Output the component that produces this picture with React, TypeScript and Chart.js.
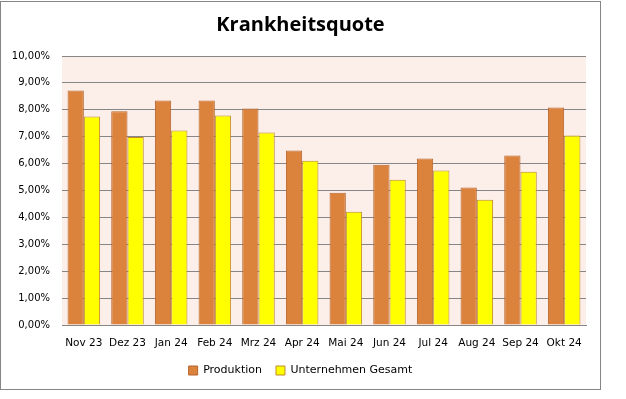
import React, { useEffect, useRef } from "react";
import { Chart, registerables } from "chart.js";

Chart.register(...registerables);

const categories = ["Nov 23", "Dez 23", "Jan 24", "Feb 24", "Mrz 24", "Apr 24", "Mai 24", "Jun 24", "Jul 24", "Aug 24", "Sep 24", "Okt 24"];
const produktion = [8.72, 7.95, 8.35, 8.35, 8.05, 6.49, 4.92, 5.96, 6.19, 5.11, 6.30, 8.09];
const unternehmenGesamt = [7.75, 6.99, 7.23, 7.79, 7.16, 6.11, 4.21, 5.40, 5.74, 4.66, 5.70, 7.04];
const yTicks = [0, 1, 2, 3, 4, 5, 6, 7, 8, 9, 10];

const fmt = (v: number) => v.toFixed(2).replace(".", ",") + "%";

const plotBg = {
  id: "plotBg",
  beforeDraw(chart: any) {
    const { ctx, chartArea } = chart;
    ctx.save();
    ctx.fillStyle = "#FCEEE9";
    ctx.fillRect(chartArea.left, chartArea.top, chartArea.right - chartArea.left, chartArea.bottom - chartArea.top);
    ctx.restore();
  },
};

export default function App() {
  const ref = useRef<HTMLCanvasElement>(null);
  useEffect(() => {
    document.body.style.margin = "0";
    const chart = new Chart(ref.current!, {
      type: "bar",
      data: {
        labels: categories,
        datasets: [
          {
            label: "Produktion",
            data: produktion,
            backgroundColor: "#DB823D",
            borderColor: "#B5652C",
            borderWidth: 1,
            categoryPercentage: 0.745,
            barPercentage: 1,
          },
          {
            label: "Unternehmen Gesamt",
            data: unternehmenGesamt,
            backgroundColor: "#FFFF00",
            borderColor: "#C08A2A",
            borderWidth: 1,
            categoryPercentage: 0.745,
            barPercentage: 1,
          },
        ],
      },
      options: {
        responsive: false,
        animation: false,
        maintainAspectRatio: false,
        layout: { padding: { left: 0, right: 0, top: 0, bottom: 3 } },
        plugins: {
          title: {
            display: true,
            text: "Krankheitsquote",
            color: "#000",
            font: { family: "'Open Sans'", size: 20, weight: "bold" },
            padding: { top: 11, bottom: 19 },
          },
          legend: {
            position: "bottom",
            labels: {
              boxWidth: 9,
              boxHeight: 9,
              color: "#000",
              font: { family: "'DejaVu Sans'", size: 11 },
              padding: 14,
            },
          },
          tooltip: { enabled: false },
        },
        scales: {
          x: {
            grid: { display: false, drawTicks: false },
            border: { display: true, color: "#868686", width: 1 },
            afterFit(scale: any) {
              scale.height = 26;
            },
            ticks: { color: "#000", font: { family: "'DejaVu Sans'", size: 10.5 }, padding: 12, maxRotation: 0, autoSkip: false },
          },
          y: {
            min: 0,
            max: 10,
            afterBuildTicks(scale: any) {
              scale.ticks = yTicks.map((v) => ({ value: v }));
            },
            afterFit(scale: any) {
              scale.width = 61;
            },
            grid: { color: "#868686", drawTicks: false, lineWidth: 1 },
            border: { display: false },
            ticks: {
              color: "#000",
              font: { family: "'DejaVu Sans'", size: 10 },
              padding: 12,
              callback: (v: any) => fmt(Number(v)),
            },
          },
          yRight: {
            type: "linear",
            position: "right",
            display: true,
            grid: { display: false, drawTicks: false },
            border: { display: false },
            ticks: { display: false },
            afterFit(scale: any) {
              scale.width = 14;
            },
          },
        },
      },
      plugins: [plotBg],
    });
    return () => chart.destroy();
  }, []);
  return (
    <div style={{ position: "absolute", left: 0, top: 1, width: 599, height: 387, border: "1px solid #868686" }}>
      <canvas ref={ref} width={599} height={387} style={{ display: "block" }} />
    </div>
  );
}
